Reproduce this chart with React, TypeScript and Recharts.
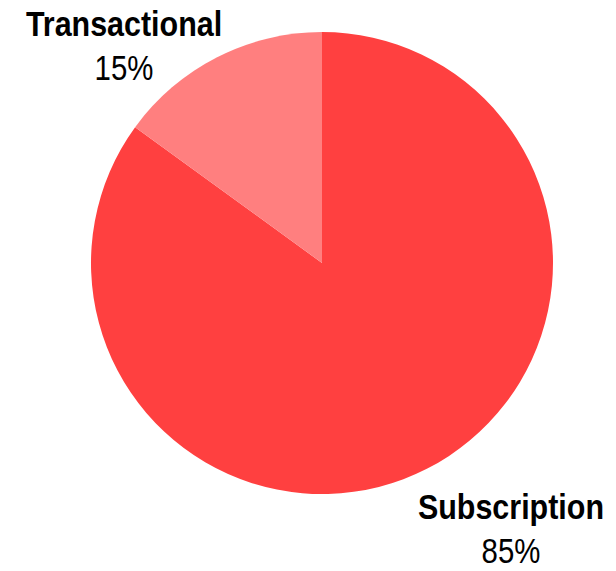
import React from "react";
import { PieChart, Pie, Cell } from "recharts";

const categories = ["Subscription", "Transactional"];
const shares = [85, 15];
const colors = ["#FF4040", "#FF7F7F"];

const data = categories.map((name, i) => ({ name, value: shares[i] }));

// label anchor offsets as fractions of the outer radius (relative to centre)
const LABEL_OFFSETS = [
  { dx: 0.818, dy: 1.11 },
  { dx: -0.857, dy: -0.983 },
];

const FONT = "'Liberation Sans Narrow', 'Arial Narrow', 'Liberation Sans', Arial, sans-serif";

const renderLabel = (props: any) => {
  const { cx, cy, outerRadius, index, name, value } = props;
  const off = LABEL_OFFSETS[index];
  const x = cx + off.dx * outerRadius;
  const y = cy + off.dy * outerRadius;
  return (
    <g key={`lbl-${index}`}>
      <text
        x={0}
        y={0}
        transform={`translate(${x},${y}) scale(0.87,1)`}
        textAnchor="middle"
        fontFamily={FONT}
        fontSize={35}
        fontWeight="bold"
        fill="#000"
      >
        {name}
      </text>
      <text
        x={0}
        y={0}
        transform={`translate(${x},${y + 44}) scale(0.84,1)`}
        textAnchor="middle"
        fontFamily={FONT}
        fontSize={35}
        fill="#000"
      >
        {`${value}%`}
      </text>
    </g>
  );
};

export default function App() {
  return (
    <div style={{ position: "absolute", left: 0, top: 0, width: 616, height: 571, background: "#fff" }}>
      <PieChart width={616} height={571} margin={{ top: 0, right: 0, bottom: 0, left: 0 }}>
        <Pie
          data={data}
          dataKey="value"
          nameKey="name"
          cx={322}
          cy={263}
          outerRadius={231}
          startAngle={90}
          endAngle={-270}
          stroke="none"
          label={renderLabel}
          labelLine={false}
          isAnimationActive={false}
        >
          {data.map((d, i) => (
            <Cell key={d.name} fill={colors[i]} />
          ))}
        </Pie>
      </PieChart>
    </div>
  );
}
